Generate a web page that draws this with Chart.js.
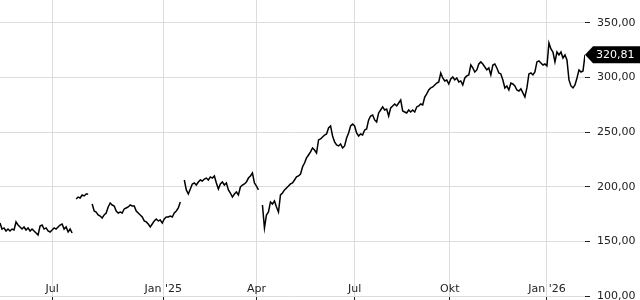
<!DOCTYPE html>
<html><head><meta charset="utf-8">
<script src="https://cdn.jsdelivr.net/npm/chart.js@4"></script>
<style>html,body{margin:0;padding:0;background:#fff}canvas{display:block}</style>
</head><body>
<canvas id="c" width="640" height="300"></canvas>
<script>
// Closing prices, sampled evenly across the period (null = no data / gap)
const prices = [
  166.8,161.3,162.3,159.5,161.3,159.5,161.3,160.4,167.8,165.0,
  163.2,161.3,163.2,160.4,162.3,159.5,161.3,159.5,157.7,155.8,
  164.1,165.0,161.3,162.3,159.5,158.6,160.4,162.3,161.3,163.2,
  165.0,165.9,161.3,163.2,158.6,161.3,157.7,
  null,
  188.8,190.6,189.7,192.5,191.6,193.4,193.4,
  null,
  184.2,177.8,176.9,174.2,173.2,171.4,174.2,176.0,181.5,185.2,
  183.3,182.4,177.8,176.0,176.9,176.0,179.7,180.6,181.5,183.3,
  182.4,182.4,177.8,176.0,174.2,172.3,168.7,167.8,165.9,163.2,
  165.9,168.7,170.5,168.7,169.6,166.8,170.5,172.3,172.3,173.2,
  172.3,176.0,177.8,180.6,186.1,
  null,
  206.2,197.1,193.4,198.0,202.6,203.5,201.6,204.4,206.2,205.3,
  207.1,208.0,206.2,209.0,208.0,209.9,203.5,198.0,202.6,204.4,
  201.6,203.5,197.1,194.3,190.6,193.4,195.2,192.5,199.8,201.6,
  202.6,204.4,208.0,209.9,212.6,203.5,200.7,197.1,
  null,
  183.3,162.3,174.2,176.9,186.1,184.2,187.0,181.5,176.9,192.5,
  194.3,197.1,198.9,200.7,202.6,203.5,206.2,209.0,209.9,211.7,
  218.1,221.8,226.4,229.1,231.9,235.5,233.7,230.9,242.9,243.8,
  245.6,247.4,248.3,253.8,255.7,246.5,241.0,238.3,237.4,239.2,
  235.5,237.4,244.7,249.3,255.7,257.5,255.7,249.3,246.5,248.3,
  247.4,252.0,252.9,261.2,264.8,265.7,261.2,259.3,267.6,270.3,
  273.1,270.3,271.2,264.8,272.2,274.0,275.8,274.0,276.7,279.5,
  269.4,268.5,267.6,270.3,268.5,270.3,268.5,273.1,274.0,275.8,
  274.9,282.2,285.0,288.6,290.5,291.4,293.2,295.0,296.0,304.2,
  299.6,296.9,297.8,294.1,298.7,300.5,297.8,299.6,296.0,296.9,
  293.2,299.6,301.5,302.4,311.5,308.8,305.1,307.0,312.4,314.3,
  312.4,309.7,307.0,308.8,302.4,311.5,312.4,308.8,304.2,303.3,
  297.8,290.5,292.3,288.6,295.0,294.1,292.3,288.6,287.7,289.6,
  285.9,282.2,290.5,303.3,304.2,302.4,305.1,314.3,315.2,313.4,
  311.5,312.4,310.6,331.7,326.2,323.4,314.3,323.4,320.7,323.4,
  317.9,320.7,316.1,297.8,292.3,290.5,293.2,299.6,307.0,305.1,
  306.0,320.81
];
// index in the series where each month label falls
const monthTickIndex = [26, 81.5, 128, 177, 224.5, 273];
const monthLabels = ['Jul', "Jan '25", 'Apr', 'Jul', 'Okt', "Jan '26"];
const yTicks = [100, 150, 200, 250, 300, 350];
const yMin = 100, yMax = 371;
const lastPrice = 320.81;

const fmt = v => v.toFixed(2).replace('.', ',');
const FONT = {family: 'DejaVu Sans', size: 11};
const GRID = '#dcdcdc';
const TXT = '#222';

const badge = {
  id: 'badge',
  afterDraw(chart) {
    const ctx = chart.ctx;
    const y = chart.scales.y.getPixelForValue(lastPrice);
    const x0 = chart.chartArea.right;
    const h = 8.5;
    ctx.save();
    ctx.fillStyle = '#000';
    ctx.beginPath();
    ctx.moveTo(x0, y);
    ctx.lineTo(x0 + 8, y - h);
    ctx.lineTo(chart.width, y - h);
    ctx.lineTo(chart.width, y + h);
    ctx.lineTo(x0 + 8, y + h);
    ctx.closePath();
    ctx.fill();
    ctx.fillStyle = '#fff';
    ctx.font = '11px "DejaVu Sans"';
    ctx.textBaseline = 'middle';
    ctx.textAlign = 'left';
    ctx.fillText(fmt(lastPrice), x0 + 11, y + 0.5);
    ctx.restore();
  }
};

new Chart(document.getElementById('c'), {
  type: 'line',
  data: {
    datasets: [{
      data: prices.map((v, i) => ({x: i, y: v})),
      borderColor: '#000',
      borderWidth: 1.5,
      pointRadius: 0,
      tension: 0,
      spanGaps: false,
      fill: false
    }]
  },
  options: {
    responsive: false,
    animation: false,
    devicePixelRatio: 1,
    layout: {padding: 0},
    plugins: {legend: {display: false}, tooltip: {enabled: false}},
    scales: {
      x: {
        type: 'linear',
        bounds: 'data',
        min: 0,
        max: prices.length - 1,
        afterBuildTicks(s) { s.ticks = monthTickIndex.map(v => ({value: v})); },
        afterFit(s) { s.height = 4; s.paddingLeft = 0; s.paddingRight = 0; },
        ticks: {
          autoSkip: false, maxRotation: 0, minRotation: 0,
          mirror: true, padding: 0, font: FONT, color: TXT,
          callback: (v, i) => monthLabels[i]
        },
        grid: {color: GRID, tickColor: TXT, tickLength: 4},
        border: {display: false}
      },
      y: {
        type: 'linear',
        position: 'right',
        bounds: 'data',
        min: yMin,
        max: yMax,
        afterBuildTicks(s) { s.ticks = yTicks.map(v => ({value: v})); },
        afterFit(s) { s.width = 55; s.paddingTop = 0; s.paddingBottom = 0; },
        ticks: {font: FONT, color: TXT, padding: 7, callback: v => fmt(v)},
        grid: {color: GRID, tickColor: TXT, tickLength: 5},
        border: {display: false}
      }
    }
  },
  plugins: [badge]
});
</script>
</body></html>
